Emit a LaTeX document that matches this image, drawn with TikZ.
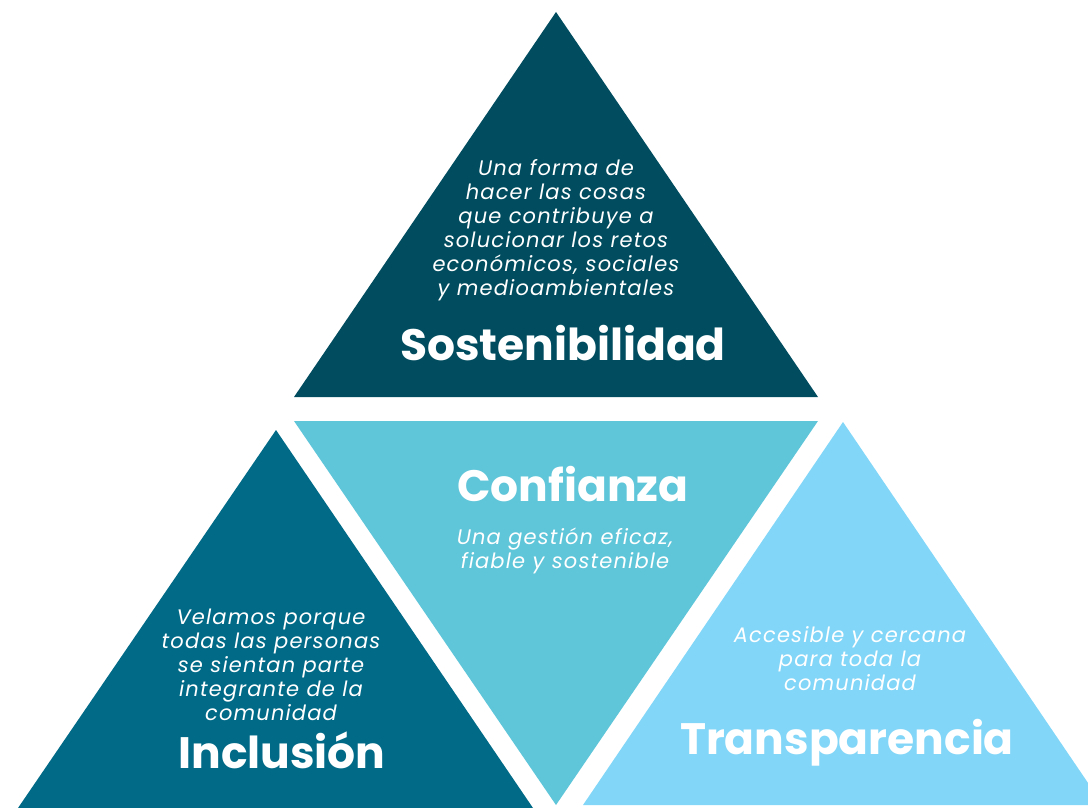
\documentclass[tikz,border=0pt]{standalone}
\usepackage{fontspec}
\setmainfont{Poppins}
\newfontfamily\descfont[LetterSpace=5.5]{Poppins}
\definecolor{sostcol}{HTML}{014D5F}
\definecolor{conficol}{HTML}{5FC5D9}
\definecolor{inclucol}{HTML}{016A87}
\definecolor{transcol}{HTML}{82D6F8}

\begin{document}
\begin{tikzpicture}[x=1pt,y=-1pt,
    desc/.style={text=white,align=center,inner sep=0pt,
        font=\descfont\itshape\fontsize{21}{24}\selectfont},
    title/.style={text=white,inner sep=0pt,
        font=\bfseries\fontsize{44}{48}\selectfont}]
    \useasboundingbox (0,0) rectangle (1088,808);
    \clip (0,0) rectangle (1088,808);

    % the four triangles
    \fill[sostcol] (556,12) -- (818,397) -- (294,397) -- cycle;
    \fill[conficol] (294,421) -- (818,421) -- (556,805) -- cycle;
    \fill[inclucol] (276,430) -- (533,808) -- (18,808) -- cycle;
    \fill[transcol] (843,422) -- (1103,805) -- (583,805) -- cycle;

    % texts
    \node[desc] (sostdesc) at (556,230) {Una forma de\\hacer las cosas\\que contribuye a\\solucionar los retos\\econ\'omicos, sociales\\y medioambientales};
    \node[title] (sost) at (563,343) {Sostenibilidad};

    \node[title] (confi) at (573,484) {Confianza};
    \node[desc] (confidesc) at (565,551) {Una gesti\'on eficaz,\\fiable y sostenible};

    \node[desc] (includesc) at (271,665) {Velamos porque\\todas las personas\\se sientan parte\\integrante de la\\comunidad};
    \node[title] (inclu) at (282,750) {Inclusi\'on};

    \node[desc] (transdesc) at (850,659) {Accesible y cercana\\para toda la\\comunidad};
    \node[title] (trans) at (847,743) {Transparencia};
\end{tikzpicture}
\end{document}
